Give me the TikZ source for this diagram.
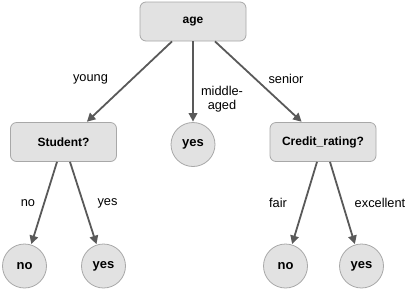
\documentclass[tikz,border=0pt]{standalone}
\usepackage{fontspec}
\setmainfont{Liberation Sans}
\usetikzlibrary{arrows.meta}
\definecolor{nodefill}{HTML}{E2E2E2}
\definecolor{nodeline}{HTML}{A8A8A8}
\definecolor{edgecol}{HTML}{595959}
\tikzset{
  box/.style={draw=nodeline, fill=nodefill, rounded corners=6pt, line width=0.8pt,
    minimum width=106pt, minimum height=39pt, inner sep=0pt,
    font=\fontsize{12}{14}\selectfont\bfseries},
  leaf/.style={draw=nodeline, fill=nodefill, circle, line width=0.8pt,
    minimum size=44pt, inner sep=0pt, font=\fontsize{13}{15}\selectfont\bfseries},
  lbl/.style={font=\fontsize{12.8}{14}\selectfont, inner sep=0pt, text=black},
  arr/.style={draw=edgecol, line width=1.8pt, -{Triangle[length=8.5pt,width=8.5pt]}, shorten >=0.5pt}
}
\begin{document}
\begin{tikzpicture}[x=1pt,y=-1pt]
\useasboundingbox (0,0) rectangle (412,293);
\node[box] (age) at (193,21.5) {age};
\node[box] (stu) at (63.5,142) {Student?};
\node[leaf] (mid) at (193,144.5) {yes};
\node[box] (cr) at (323,142) {Credit\_rating?};
\node[leaf] (n1) at (24.5,266) {no};
\node[leaf] (y1) at (103.5,266) {yes};
\node[leaf] (n2) at (285.5,266) {no};
\node[leaf] (y2) at (361.5,266) {yes};

\draw[arr] ([xshift=-21pt]age.south) -- ([xshift=23pt]stu.north);
\draw[arr] (age.south) -- (mid.north);
\draw[arr] ([xshift=22pt]age.south) -- ([xshift=-21pt]cr.north);
\draw[arr] ([xshift=-6.5pt]stu.south) -- (n1);
\draw[arr] ([xshift=6.5pt]stu.south) -- (y1);
\draw[arr] ([xshift=-6pt]cr.south) -- (n2);
\draw[arr] ([xshift=7pt]cr.south) -- (y2);

\node[lbl] (lyoung) at (90.5,79) {young};
\node[lbl, align=center] (lmid) at (222,99.5) {middle-\\aged};
\node[lbl] (lsenior) at (286,79) {senior};
\node[lbl] (lno) at (28,203) {no};
\node[lbl] (lyes) at (107.5,203) {yes};
\node[lbl] (lfair) at (278,203) {fair};
\node[lbl] (lexc) at (380,203) {excellent};
\end{tikzpicture}
\end{document}
